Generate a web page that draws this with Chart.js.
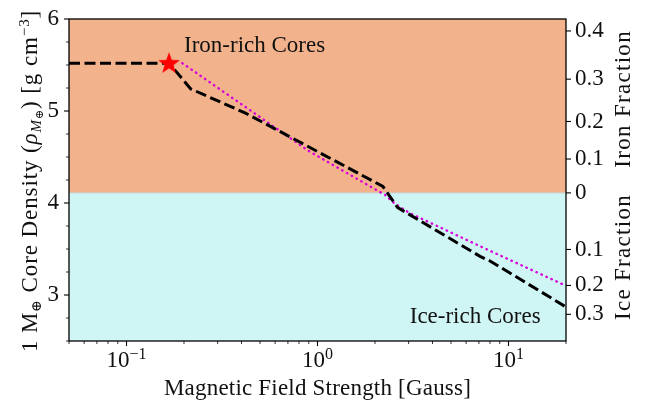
<!DOCTYPE html>
<html><head><meta charset="utf-8">
<script src="https://cdn.jsdelivr.net/npm/chart.js@4/dist/chart.umd.min.js"></script>
<style>html,body{margin:0;padding:0;background:#fff}#wrap{width:646px;height:403px;position:relative}</style>
</head><body><div id="wrap"><canvas id="c"></canvas></div>
<script>
const FONT = '"Liberation Serif", "DejaVu Serif", serif';
const FS = 23;

// ---- data ----
const fieldDashed   = [0.05, 0.167, 0.217, 0.42, 2.20, 2.63, 7.1, 8.0, 20];
const densityDashed = [5.52, 5.52, 5.24, 4.977, 4.18, 3.95, 3.42, 3.37, 2.87];
const fieldDotted   = [0.196, 0.495, 0.908, 2.25, 2.55, 3.04, 7.1, 20];
const densityDotted = [5.52, 4.94, 4.56, 4.09, 3.99, 3.89, 3.53, 3.10];
const starField   = [0.167];
const starDensity = [5.52];
const boundaryDensity = 4.11;

const xMin = 0.05, xMax = 20, yMin = 2.5, yMax = 6;
const xMajorTicks = [0.1, 1, 10];
const xMajorExponents = ['\u22121', '0', '1'];
const xMinorTicks = [0.05,0.06,0.07,0.08,0.09,0.2,0.3,0.4,0.5,0.6,0.7,0.8,0.9,2,3,4,5,6,7,8,9,20];
const leftMajorTicks = [3, 4, 5, 6];
const leftMinorTicks = [2.5,2.75,3.25,3.5,3.75,4.25,4.5,4.75,5.25,5.5,5.75];
const rightTickDensity = [2.79, 3.104, 3.495, 4.11, 4.478, 4.886, 5.346, 5.87];
const rightTickLabels  = ['0.3', '0.2', '0.1', '0', '0.1', '0.2', '0.3', '0.4'];

const annotationText    = ['Iron-rich Cores', 'Ice-rich Cores'];
const annotationField   = [0.2, 3.04];
const annotationDensity = [5.645, 2.70];

const xTitle = 'Magnetic Field Strength [Gauss]';
const rightTitles = ['Iron Fraction', 'Ice Fraction'];
const rightTitleCenters = [5.132, 3.413];

const ironColor = '#f2b38c';
const iceColor  = '#d0f5f5';

function pts(xs, ys){ return xs.map((v,i)=>({x:v, y:ys[i]})); }

// star image for point style
const starImg = document.createElement('canvas');
starImg.width = 24; starImg.height = 24;
(function(){
  const c = starImg.getContext('2d');
  const R = 11.5, r = 4.7, cx = 12, cy = 12.5;
  c.beginPath();
  for (let i=0;i<10;i++){
    const ang = -Math.PI/2 + i*Math.PI/5;
    const rad = i%2===0 ? R : r;
    const px = cx + rad*Math.cos(ang), py = cy + rad*Math.sin(ang);
    i===0 ? c.moveTo(px,py) : c.lineTo(px,py);
  }
  c.closePath();
  c.fillStyle = '#ff0000';
  c.fill();
})();

function drawRich(ctx, segs, cx, cy){
  let total = 0;
  segs.forEach(s=>{ ctx.font = s[1]; total += ctx.measureText(s[0]).width; });
  let x = cx - total/2;
  segs.forEach(s=>{
    ctx.font = s[1];
    ctx.fillText(s[0], x, cy + (s[2]||0));
    x += ctx.measureText(s[0]).width;
  });
}

const decor = {
  id: 'decor',
  beforeDatasetsDraw(chart){
    const {ctx, chartArea:a, scales:{y}} = chart;
    const yb = y.getPixelForValue(boundaryDensity);
    ctx.save();
    ctx.fillStyle = ironColor; ctx.fillRect(a.left, a.top, a.right-a.left, yb-a.top);
    ctx.fillStyle = iceColor;  ctx.fillRect(a.left, yb, a.right-a.left, a.bottom-yb);
    ctx.strokeStyle = 'rgba(200,200,200,0.9)'; ctx.lineWidth = 1;
    ctx.beginPath(); ctx.moveTo(a.left, yb); ctx.lineTo(a.right, yb); ctx.stroke();
    ctx.restore();
  },
  afterDraw(chart){
    const {ctx, chartArea:a, scales:{x, y, y2}} = chart;
    ctx.save();
    ctx.strokeStyle = '#000'; ctx.lineWidth = 1.3;
    ctx.strokeRect(a.left, a.top, a.right-a.left, a.bottom-a.top);
    const tick = (x1,y1,x2,y2,w)=>{ ctx.lineWidth=w; ctx.beginPath(); ctx.moveTo(x1,y1); ctx.lineTo(x2,y2); ctx.stroke(); };
    xMajorTicks.forEach(v=>{ const p=x.getPixelForValue(v); tick(p,a.bottom,p,a.bottom+5,1.1); });
    xMinorTicks.forEach(v=>{ const p=x.getPixelForValue(v); tick(p,a.bottom,p,a.bottom+3,0.8); });
    leftMajorTicks.forEach(v=>{ const p=y.getPixelForValue(v); tick(a.left,p,a.left-5,p,1.1); });
    leftMinorTicks.forEach(v=>{ const p=y.getPixelForValue(v); tick(a.left,p,a.left-3,p,0.8); });
    rightTickDensity.forEach(v=>{ const p=y2.getPixelForValue(v); tick(a.right,p,a.right+5,p,1.1); });
    ctx.fillStyle = '#111'; ctx.textBaseline = 'alphabetic'; ctx.textAlign = 'left';
    xMajorTicks.forEach((v,i)=>{
      const p = x.getPixelForValue(v);
      drawRich(ctx, [['10', FS+'px '+FONT, 0], [xMajorExponents[i], '16px '+FONT, -8]], p, 367);
    });
    ctx.textAlign = 'center'; ctx.textBaseline = 'alphabetic';
    ctx.font = FS+'px '+FONT;
    ctx.letterSpacing = '0.2px';
    ctx.fillText(xTitle, (a.left+a.right)/2, 395);
    // left title
    ctx.save();
    ctx.letterSpacing = '0.9px';
    ctx.translate(37, 181); ctx.rotate(-Math.PI/2);
    ctx.textAlign = 'left'; ctx.textBaseline = 'alphabetic';
    drawRich(ctx, [
      ['1 M', FS+'px '+FONT, 0], ['\u2295', '14px '+FONT, 4],
      [' Core Density (', FS+'px '+FONT, 0],
      ['\u03C1', 'italic '+FS+'px '+FONT, 0], ['M', 'italic 15px '+FONT, 4], ['\u2295', '11px '+FONT, 6],
      [') [g cm', FS+'px '+FONT, 0], ['\u22123', '15px '+FONT, -8], [']', FS+'px '+FONT, 0]
    ], 0, 0);
    ctx.restore();
    rightTitles.forEach((t,i)=>{
      ctx.save(); ctx.letterSpacing = '1.3px';
      ctx.translate(630, y.getPixelForValue(rightTitleCenters[i])); ctx.rotate(-Math.PI/2);
      ctx.textAlign='center'; ctx.textBaseline='alphabetic'; ctx.font = FS+'px '+FONT;
      ctx.fillText(t, 0, 0); ctx.restore();
    });
    ctx.letterSpacing = '0px';
    ctx.textAlign = 'left'; ctx.textBaseline = 'alphabetic'; ctx.font = FS+'px '+FONT;
    annotationText.forEach((t,i)=>{
      ctx.fillText(t, x.getPixelForValue(annotationField[i]), y.getPixelForValue(annotationDensity[i]));
    });
    ctx.restore();
  }
};

function noPad(s){ s.paddingTop = 0; s.paddingBottom = 0; s.paddingLeft = 0; s.paddingRight = 0; }

new Chart(document.getElementById('c'), {
  type: 'scatter',
  data: {
    datasets: [
      { label: 'star', data: pts(starField, starDensity), pointStyle: starImg, pointRadius: 12, showLine: false, order: 0 },
      { label: 'dashed', data: pts(fieldDashed, densityDashed), showLine: true, borderColor: '#000', borderWidth: 3,
        borderDash: [11, 4.5], pointRadius: 0, tension: 0, borderCapStyle: 'butt', order: 1 },
      { label: 'dotted', data: pts(fieldDotted, densityDotted), showLine: true, borderColor: '#d800d8', borderWidth: 2.4,
        borderDash: [0.5, 5], borderCapStyle: 'round', pointRadius: 0, tension: 0, order: 2 }
    ]
  },
  options: {
    responsive: true, maintainAspectRatio: false, animation: false,
    layout: { padding: { top: 19, left: 0, right: 0, bottom: 0 } },
    plugins: { legend: { display: false }, tooltip: { enabled: false } },
    scales: {
      x: { type: 'logarithmic', position: 'bottom', min: xMin, max: xMax,
        grid: { display: false, drawTicks: false }, border: { display: false },
        ticks: { display: false },
        afterFit(s){ s.height = 62; noPad(s); } },
      y: { type: 'linear', position: 'left', min: yMin, max: yMax,
        grid: { display: false, drawTicks: false }, border: { display: false },
        afterBuildTicks(s){ s.ticks = leftMajorTicks.map(v=>({value:v})); },
        ticks: { color: '#111', font: { family: FONT, size: FS }, padding: 10, callback: v => String(v) },
        afterFit(s){ s.width = 69; noPad(s); } },
      y2: { type: 'linear', position: 'right', min: yMin, max: yMax,
        grid: { display: false, drawTicks: false }, border: { display: false },
        afterBuildTicks(s){ s.ticks = rightTickDensity.map(v=>({value:v})); },
        ticks: { color: '#111', font: { family: FONT, size: FS }, padding: 9, autoSkip: false,
          callback: (v, i) => rightTickLabels[i] },
        afterFit(s){ s.width = 80; noPad(s); } }
    }
  },
  plugins: [decor]
});
</script>
</body></html>
